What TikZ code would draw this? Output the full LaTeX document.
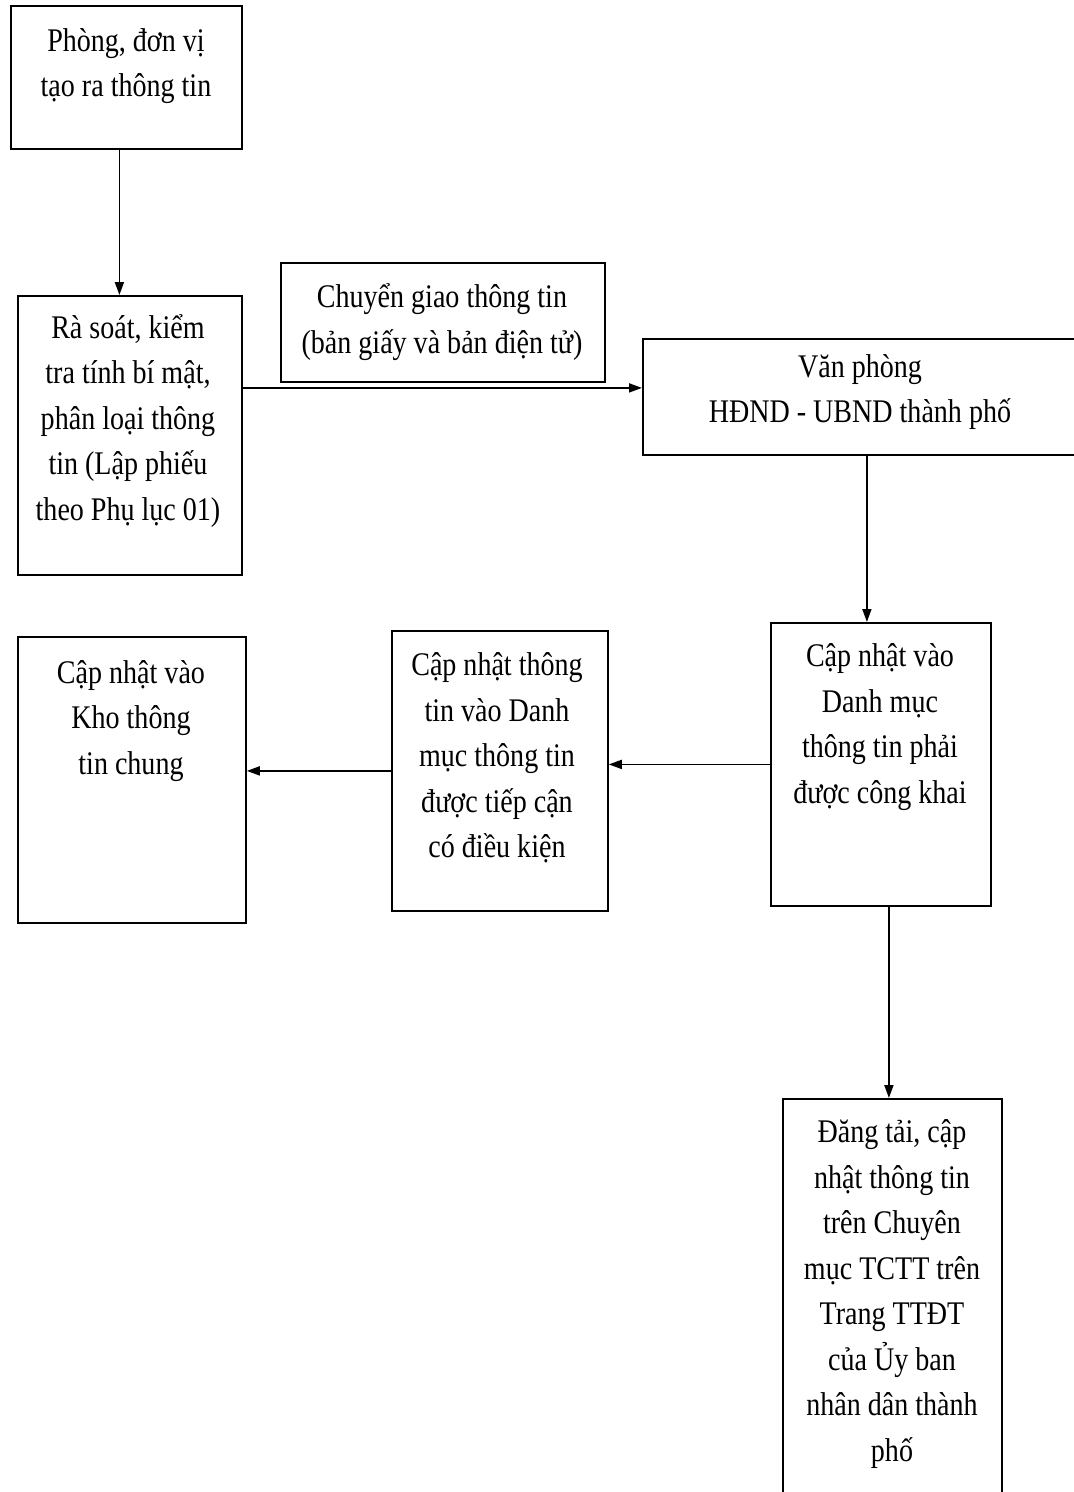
\documentclass[tikz,border=0pt]{standalone}
\usepackage{fontspec}
\setmainfont[FakeStretch=0.85]{Liberation Serif}
\usetikzlibrary{arrows.meta,calc}
\tikzset{
  x=1pt,y=-1pt,
  boxnode/.style={draw=black,line width=1.8pt,inner sep=0pt,anchor=north west},
  txt/.style={align=center,inner sep=0pt,font=\fontsize{33}{45.5}\selectfont},
  arr/.style={line width=1.8pt,-{Triangle[length=13pt,width=9pt]}}
}
\begin{document}
\begin{tikzpicture}
\clip (0,0) rectangle (1074,1492);
\fill[white] (0,0) rectangle (1074,1492);
% boxes
\node[boxnode,minimum width=231,minimum height=143] (b1) at (10,5) {};
\node[boxnode,minimum width=224,minimum height=279] (b2) at (17,295) {};
\node[boxnode,minimum width=324,minimum height=119] (cg) at (280,262) {};
\node[boxnode,minimum width=448,minimum height=116] (vp) at (642,338) {};
\node[boxnode,minimum width=220,minimum height=283] (dm) at (770,622) {};
\node[boxnode,minimum width=216,minimum height=280] (ct) at (391,630) {};
\node[boxnode,minimum width=228,minimum height=286] (kho) at (17,636) {};
\node[boxnode,minimum width=219,minimum height=420] (dt) at (782,1098) {};
% texts
\node[txt] (b1t) at (126,66) {Phòng, đơn vị\\tạo ra thông tin};
\node[txt] (b2t) at (128,421) {Rà soát, kiểm\\tra tính bí mật,\\phân loại thông\\tin (Lập phiếu\\theo Phụ lục 01)};
\node[txt] (cgt) at (442,322) {Chuyển giao thông tin\\(bản giấy và bản điện tử)};
\node[txt] (vpt) at (860,392) {Văn phòng\\HĐND - UBND thành phố};
\node[txt] (dmt) at (880,727) {Cập nhật vào\\Danh mục\\thông tin phải\\được công khai};
\node[txt] (ctt) at (497,758) {Cập nhật thông\\tin vào Danh\\mục thông tin\\được tiếp cận\\có điều kiện};
\node[txt] (khot) at (131,721) {Cập nhật vào\\Kho thông\\tin chung};
\node[txt] (dtt) at (892,1294) {Đăng tải, cập\\nhật thông tin\\trên Chuyên\\mục TCTT trên\\Trang TTĐT\\của Ủy ban\\nhân dân thành\\phố};
% connectors
\draw[arr] ([xshift=-7]b1.south) -- ([xshift=-7]b1.south |- b2.north);
\draw[arr] ([yshift=9]vp.west -| b2.east) -- ([yshift=9]vp.west);
\draw[arr] (vp.south) -- (vp.south |- dm.north);
\draw[arr] (dm.west) -- (dm.west -| ct.east);
\draw[arr] (ct.west) -- (ct.west -| kho.east);
\draw[arr] ([xshift=8]dm.south) -- ([xshift=8]dm.south |- dt.north);
\end{tikzpicture}
\end{document}
